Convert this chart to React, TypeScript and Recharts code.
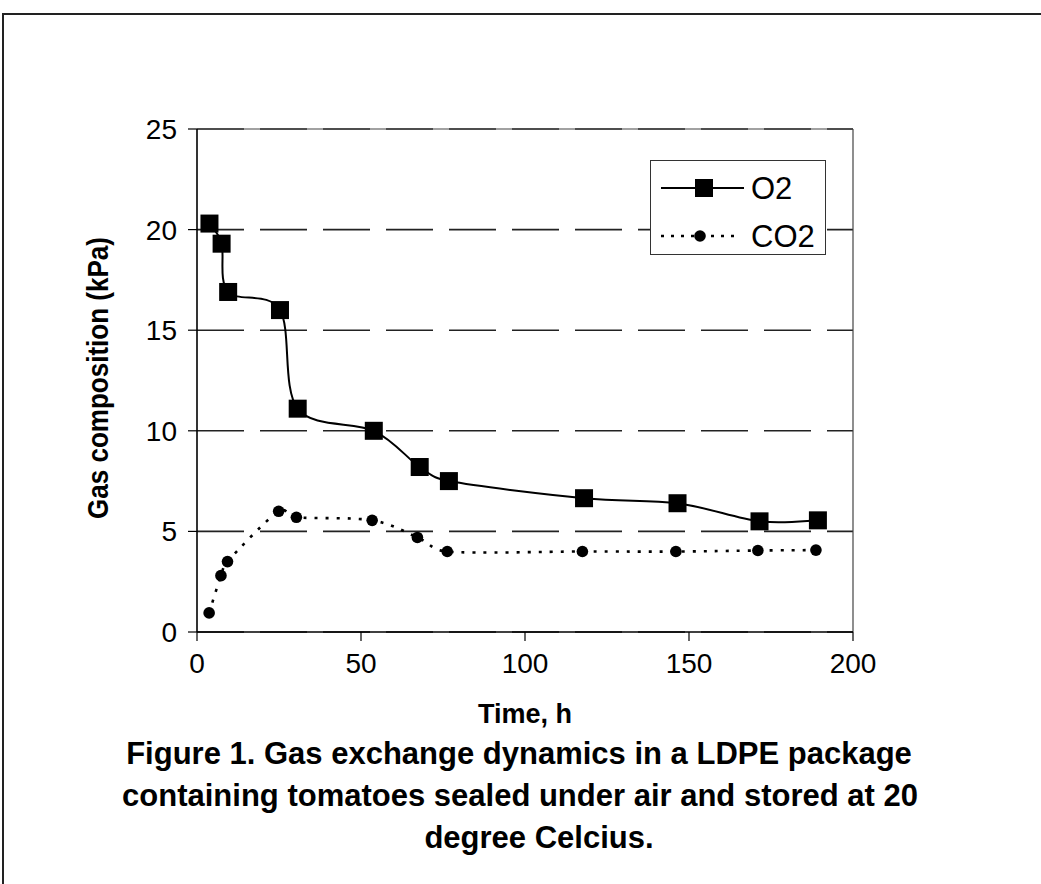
import React from 'react';
import { LineChart, Line, XAxis, YAxis, CartesianGrid, ReferenceLine, Legend, Label } from 'recharts';

// ---- data ----
const timeO2 = [3.8, 7.5, 9.5, 25.3, 30.7, 53.9, 67.9, 76.8, 118, 146.5, 171.5, 189.3];
const o2Values = [20.3, 19.3, 16.9, 16.0, 11.1, 10.0, 8.2, 7.5, 6.65, 6.4, 5.5, 5.55];
const timeCO2 = [3.7, 7.3, 9.3, 24.9, 30.3, 53.4, 67.2, 76.3, 117.5, 146, 171, 188.7];
const co2Values = [0.95, 2.8, 3.5, 6.0, 5.7, 5.55, 4.7, 4.0, 4.0, 4.0, 4.05, 4.07];
const xTicks = [0, 50, 100, 150, 200];
const yTicks = [0, 5, 10, 15, 20, 25];
const seriesNames = ['O2', 'CO2'];
const xTitle = 'Time, h';
const yTitle = 'Gas composition (kPa)';
const captionLines = [
  'Figure 1. Gas exchange dynamics in a LDPE package',
  'containing tomatoes sealed under air and stored at 20',
  'degree Celcius.',
];

const o2Data = timeO2.map((t, i) => ({ t, v: o2Values[i] }));
const co2Data = timeCO2.map((t, i) => ({ t, v: co2Values[i] }));

const FONT = 'Arial, "Liberation Sans", Helvetica, sans-serif';

// Excel-like smoothed line (Catmull-Rom bezier with limited handles)
const excelSmooth = (context: any) => {
  let pts: number[][] = [];
  return {
    areaStart() {},
    areaEnd() {},
    lineStart() {
      pts = [];
    },
    point(x: number, y: number) {
      pts.push([+x, +y]);
    },
    lineEnd() {
      const n = pts.length;
      if (n === 0) return;
      context.moveTo(pts[0][0], pts[0][1]);
      for (let i = 0; i < n - 1; i++) {
        const p0 = pts[i > 0 ? i - 1 : i];
        const p1 = pts[i];
        const p2 = pts[i + 1];
        const p3 = pts[i + 2 < n ? i + 2 : i + 1];
        const seg = Math.hypot(p2[0] - p1[0], p2[1] - p1[1]);
        let t1x = (p2[0] - p0[0]) / 6;
        let t1y = (p2[1] - p0[1]) / 6;
        let t2x = (p3[0] - p1[0]) / 6;
        let t2y = (p3[1] - p1[1]) / 6;
        const l1 = Math.hypot(t1x, t1y);
        const l2 = Math.hypot(t2x, t2y);
        const cap = seg / 2;
        if (l1 > cap && l1 > 0) {
          t1x *= cap / l1;
          t1y *= cap / l1;
        }
        if (l2 > cap && l2 > 0) {
          t2x *= cap / l2;
          t2y *= cap / l2;
        }
        context.bezierCurveTo(p1[0] + t1x, p1[1] + t1y, p2[0] - t2x, p2[1] - t2y, p2[0], p2[1]);
      }
    },
  };
};

const SquareDot = (props: any) => {
  const { cx, cy, index } = props;
  if (cx == null || cy == null) return <g key={`s-${index}`} />;
  return <rect key={`s-${index}`} x={cx - 9} y={cy - 9} width={18} height={18} fill="#000" />;
};

const CircleDot = (props: any) => {
  const { cx, cy, index } = props;
  if (cx == null || cy == null) return <g key={`c-${index}`} />;
  return <circle key={`c-${index}`} cx={cx} cy={cy} r={5.8} fill="#000" />;
};

const renderLegend = () => (
  <div
    style={{
      width: 176,
      height: 95,
      border: '1.5px solid #333',
      background: '#fff',
      boxSizing: 'border-box',
    }}
  >
    <svg width={174} height={93} style={{ display: 'block' }}>
      <line x1={10} y1={27} x2={93} y2={27} stroke="#000" strokeWidth={2} />
      <rect x={44} y={18} width={18} height={18} fill="#000" />
      <text x={100} y={38} fontSize={31} fontFamily={FONT} fill="#000">
        {seriesNames[0]}
      </text>
      <line x1={10} y1={75} x2={88} y2={75} stroke="#000" strokeWidth={2.6} strokeDasharray="3 7" />
      <circle cx={49} cy={75} r={5.8} fill="#000" />
      <text x={100} y={86} fontSize={31} fontFamily={FONT} fill="#000">
        {seriesNames[1]}
      </text>
    </svg>
  </div>
);

export default function App() {
  return (
    <div
      style={{
        position: 'absolute',
        left: 0,
        top: 0,
        width: 1041,
        height: 884,
        background: '#fff',
        overflow: 'hidden',
        fontFamily: FONT,
      }}
    >
      <div
        style={{
          position: 'absolute',
          left: 2,
          top: 13,
          width: 1200,
          height: 1000,
          borderLeft: '2px solid #222',
          borderTop: '2px solid #222',
        }}
      />
      <div style={{ position: 'absolute', left: 0, top: 0 }}>
        <LineChart width={1041} height={884} margin={{ top: 129, right: 188, bottom: 192, left: 0 }}>
          <CartesianGrid
            horizontal
            vertical={false}
            stroke="#222"
            strokeWidth={1.6}
            strokeDasharray="47 16"
          />
          <XAxis
            dataKey="t"
            type="number"
            domain={[0, 200]}
            ticks={xTicks}
            allowDataOverflow
            height={60}
            tickSize={9}
            tickMargin={12}
            axisLine={{ stroke: '#000', strokeWidth: 1.6 }}
            tickLine={{ stroke: '#000', strokeWidth: 1.2 }}
            tick={{ fill: '#000', fontSize: 28, fontFamily: FONT }}
          >
            <Label
              content={() => (
                <text x={525} y={723} textAnchor="middle" fontSize={27} fontWeight="bold" fontFamily={FONT} fill="#000">
                  {xTitle}
                </text>
              )}
            />
          </XAxis>
          <YAxis
            type="number"
            domain={[0, 25]}
            ticks={yTicks}
            allowDataOverflow
            width={197}
            tickSize={9}
            tickMargin={11}
            axisLine={{ stroke: '#000', strokeWidth: 1.6 }}
            tickLine={{ stroke: '#000', strokeWidth: 1.2 }}
            tick={{ fill: '#000', fontSize: 28, fontFamily: FONT }}
          >
            <Label
              content={() => (
                <text
                  x={108}
                  y={378}
                  transform="rotate(-90 108 378)"
                  textAnchor="middle"
                  fontSize={30}
                  fontWeight="bold"
                  fontFamily={FONT}
                  fill="#000"
                  textLength={282}
                  lengthAdjust="spacingAndGlyphs"
                >
                  {yTitle}
                </text>
              )}
            />
          </YAxis>
          <ReferenceLine y={25} stroke="#444" strokeWidth={1.2} />
          <ReferenceLine x={200} stroke="#444" strokeWidth={1.2} />
          <Line
            data={co2Data}
            dataKey="v"
            name={seriesNames[1]}
            type={excelSmooth as any}
            stroke="#000"
            strokeWidth={2.6}
            strokeDasharray="3 8"
            dot={CircleDot}
            activeDot={false}
            isAnimationActive={false}
          />
          <Line
            data={o2Data}
            dataKey="v"
            name={seriesNames[0]}
            type={excelSmooth as any}
            stroke="#000"
            strokeWidth={2}
            dot={SquareDot}
            activeDot={false}
            isAnimationActive={false}
          />
          <Legend
            layout="horizontal"
            verticalAlign="middle"
            align="center"
            content={renderLegend}
            wrapperStyle={{ left: 650, top: 160, width: 176, height: 95 }}
          />
        </LineChart>
      </div>
      <svg
        width={1041}
        height={884}
        style={{ position: 'absolute', left: 0, top: 0, pointerEvents: 'none' }}
      >
        <text x={519} y={764} textAnchor="middle" fontSize={31} fontWeight="bold" fontFamily={FONT} fill="#000">
          {captionLines[0]}
        </text>
        <text x={520} y={806} textAnchor="middle" fontSize={31} fontWeight="bold" fontFamily={FONT} fill="#000">
          {captionLines[1]}
        </text>
        <text x={539} y={848} textAnchor="middle" fontSize={31} fontWeight="bold" fontFamily={FONT} fill="#000">
          {captionLines[2]}
        </text>
      </svg>
    </div>
  );
}
